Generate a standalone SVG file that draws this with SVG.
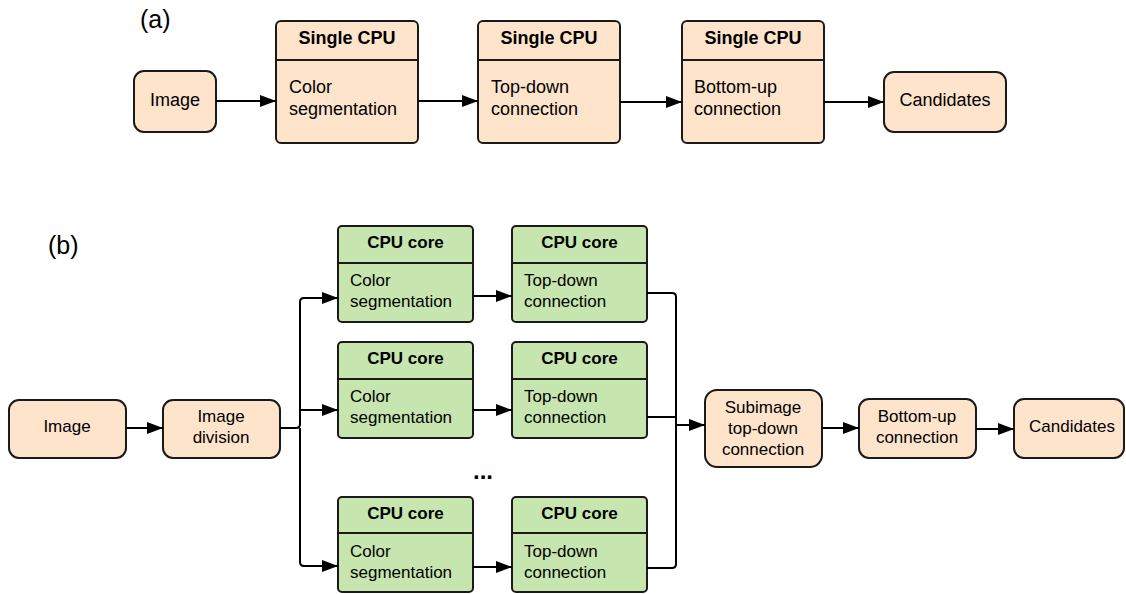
<svg xmlns="http://www.w3.org/2000/svg" width="1126" height="594" viewBox="0 0 1126 594">
  <style>
    .peach { fill: #FFE4CC; stroke: #1a1a1a; stroke-width: 2; }
    .green { fill: #C7E6AF; stroke: #1a1a1a; stroke-width: 2; }
    .div { stroke: #1a1a1a; stroke-width: 2; }
    .wire { fill: none; stroke: #000; stroke-width: 2; }
    text { font-family: "Liberation Sans", Arial, sans-serif; fill: #000; }
    .ta { font-size: 18px; }
    .tb { font-size: 17px; }
    .b { font-weight: bold; }
    .mid { text-anchor: middle; }
    .lbl { font-size: 25px; }
  </style>
  <defs>
    <marker id="arrow" viewBox="0 0 16 12" refX="16" refY="6" markerWidth="16" markerHeight="12" markerUnits="userSpaceOnUse" orient="auto">
      <path d="M0,0 L16,6 L0,12 Z" fill="#000"/>
    </marker>
  </defs>

  <!-- (a) single-CPU pipeline -->
  <text class="lbl" x="140" y="28">(a)</text>

  <g id="a-image">
    <rect class="peach" x="134" y="71" width="82" height="61" rx="10"/>
    <text class="ta mid" x="175" y="106">Image</text>
  </g>
  <g id="a-colorseg">
    <rect class="peach" x="276" y="21" width="142" height="122" rx="5"/>
    <line class="div" x1="276" y1="60" x2="418" y2="60"/>
    <text class="ta b mid" x="347" y="44">Single CPU</text>
    <text class="ta" x="289" y="93">Color</text>
    <text class="ta" x="289" y="115">segmentation</text>
  </g>
  <g id="a-topdown">
    <rect class="peach" x="478" y="21" width="142" height="122" rx="5"/>
    <line class="div" x1="478" y1="60" x2="620" y2="60"/>
    <text class="ta b mid" x="549" y="44">Single CPU</text>
    <text class="ta" x="491" y="93">Top-down</text>
    <text class="ta" x="491" y="115">connection</text>
  </g>
  <g id="a-bottomup">
    <rect class="peach" x="682" y="21" width="142" height="122" rx="5"/>
    <line class="div" x1="682" y1="60" x2="824" y2="60"/>
    <text class="ta b mid" x="753" y="44">Single CPU</text>
    <text class="ta" x="694" y="93">Bottom-up</text>
    <text class="ta" x="694" y="115">connection</text>
  </g>
  <g id="a-candidates">
    <rect class="peach" x="884" y="72" width="122" height="60" rx="10"/>
    <text class="ta mid" x="945" y="106">Candidates</text>
  </g>

  <!-- (b) multi-core pipeline -->
  <text class="lbl" x="48" y="254">(b)</text>

  <g id="b-image">
    <rect class="peach" x="9" y="400" width="117" height="58" rx="10"/>
    <text class="tb mid" x="67" y="432">Image</text>
  </g>
  <g id="b-division">
    <rect class="peach" x="163" y="400" width="117" height="58" rx="10"/>
    <text class="tb mid" x="221" y="422">Image</text>
    <text class="tb mid" x="221" y="443">division</text>
  </g>

  <g id="b-seg1">
    <rect class="green" x="338" y="226" width="135" height="96" rx="4"/>
    <line class="div" x1="338" y1="263" x2="473" y2="263"/>
    <text class="tb b mid" x="405.5" y="248">CPU core</text>
    <text class="tb" x="350" y="286">Color</text>
    <text class="tb" x="350" y="307">segmentation</text>
  </g>
  <g id="b-td1">
    <rect class="green" x="512" y="226" width="135" height="96" rx="4"/>
    <line class="div" x1="512" y1="263" x2="647" y2="263"/>
    <text class="tb b mid" x="579.5" y="248">CPU core</text>
    <text class="tb" x="524" y="286">Top-down</text>
    <text class="tb" x="524" y="307">connection</text>
  </g>
  <g id="b-seg2">
    <rect class="green" x="338" y="342" width="135" height="96" rx="4"/>
    <line class="div" x1="338" y1="379" x2="473" y2="379"/>
    <text class="tb b mid" x="405.5" y="364">CPU core</text>
    <text class="tb" x="350" y="402">Color</text>
    <text class="tb" x="350" y="423">segmentation</text>
  </g>
  <g id="b-td2">
    <rect class="green" x="512" y="342" width="135" height="96" rx="4"/>
    <line class="div" x1="512" y1="379" x2="647" y2="379"/>
    <text class="tb b mid" x="579.5" y="364">CPU core</text>
    <text class="tb" x="524" y="402">Top-down</text>
    <text class="tb" x="524" y="423">connection</text>
  </g>
  <g id="b-seg3">
    <rect class="green" x="338" y="497" width="135" height="95" rx="4"/>
    <line class="div" x1="338" y1="533" x2="473" y2="533"/>
    <text class="tb b mid" x="405.5" y="519">CPU core</text>
    <text class="tb" x="350" y="557">Color</text>
    <text class="tb" x="350" y="578">segmentation</text>
  </g>
  <g id="b-td3">
    <rect class="green" x="512" y="497" width="135" height="95" rx="4"/>
    <line class="div" x1="512" y1="533" x2="647" y2="533"/>
    <text class="tb b mid" x="579.5" y="519">CPU core</text>
    <text class="tb" x="524" y="557">Top-down</text>
    <text class="tb" x="524" y="578">connection</text>
  </g>

  <g id="b-ellipsis">
    <text class="b mid" x="483" y="479" style="font-size:24px">...</text>
  </g>

  <g id="b-subimage">
    <rect class="peach" x="705" y="390" width="117" height="77" rx="12"/>
    <text class="tb mid" x="763" y="413">Subimage</text>
    <text class="tb mid" x="763" y="434">top-down</text>
    <text class="tb mid" x="763" y="455">connection</text>
  </g>
  <g id="b-bottomup">
    <rect class="peach" x="859" y="399" width="117" height="59" rx="10"/>
    <text class="tb mid" x="917" y="422">Bottom-up</text>
    <text class="tb mid" x="917" y="443">connection</text>
  </g>
  <g id="b-candidates">
    <rect class="peach" x="1014" y="399" width="110" height="59" rx="10"/>
    <text class="tb mid" x="1072" y="432">Candidates</text>
  </g>

  <!-- connectors -->
  <g id="connectors">
    <!-- (a) -->
    <line class="wire" x1="216" y1="101" x2="276" y2="101" marker-end="url(#arrow)"/>
    <line class="wire" x1="418" y1="101" x2="478" y2="101" marker-end="url(#arrow)"/>
    <line class="wire" x1="620" y1="102" x2="682" y2="102" marker-end="url(#arrow)"/>
    <line class="wire" x1="824" y1="102" x2="884" y2="102" marker-end="url(#arrow)"/>

    <!-- (b) input side -->
    <line class="wire" x1="126" y1="428" x2="163" y2="428" marker-end="url(#arrow)"/>
    <path class="wire" d="M280,428 H296 Q300,428 300,424 V302 Q300,298 304,298 H338" marker-end="url(#arrow)"/>
    <path class="wire" d="M300,410 H338" marker-end="url(#arrow)"/>
    <path class="wire" d="M300,428 V562 Q300,566 304,566 H338" marker-end="url(#arrow)"/>

    <!-- (b) segmentation to top-down -->
    <line class="wire" x1="473" y1="296" x2="512" y2="296" marker-end="url(#arrow)"/>
    <line class="wire" x1="473" y1="410" x2="512" y2="410" marker-end="url(#arrow)"/>
    <line class="wire" x1="473" y1="567" x2="512" y2="567" marker-end="url(#arrow)"/>

    <!-- (b) merge into subimage stage -->
    <path class="wire" d="M647,293 H672 Q676,293 676,297 V564 Q676,568 672,568 H647"/>
    <line class="wire" x1="647" y1="417" x2="676" y2="417"/>
    <line class="wire" x1="676" y1="425" x2="705" y2="425" marker-end="url(#arrow)"/>

    <!-- (b) output side -->
    <line class="wire" x1="822" y1="428" x2="859" y2="428" marker-end="url(#arrow)"/>
    <line class="wire" x1="976" y1="429" x2="1014" y2="429" marker-end="url(#arrow)"/>
  </g>
</svg>
